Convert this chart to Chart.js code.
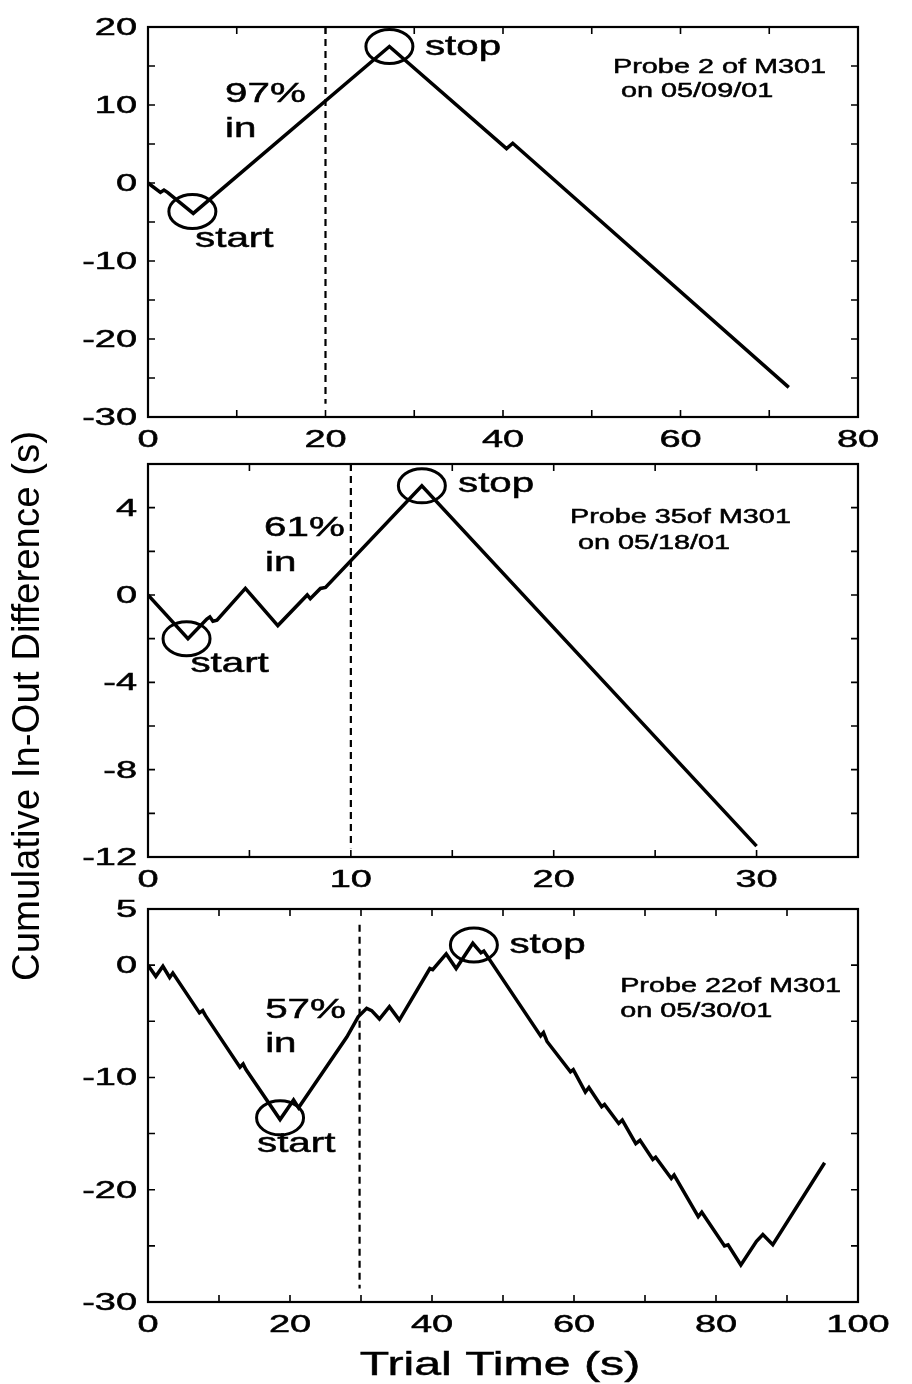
<!DOCTYPE html>
<html>
<head>
<meta charset="utf-8">
<script src="https://cdn.jsdelivr.net/npm/chart.js@4.4.1/dist/chart.umd.min.js"></script>
<style>
  html, body { margin: 0; padding: 0; background: #fff; }
  #wrap { position: relative; width: 912px; height: 1384px; overflow: hidden; }
  #wrap canvas { position: absolute; left: 0; top: 0; }
</style>
</head>
<body>
<div id="wrap">
  <canvas id="probe2" width="912" height="1384"></canvas>
  <canvas id="probe35" width="912" height="1384"></canvas>
  <canvas id="probe22" width="912" height="1384"></canvas>
</div>
<script>
// trial time (s) / cumulative in-out difference (s)
const probe2Time = [0, 1.4, 1.8, 2.2, 5.1, 27.2, 40.4, 41.1, 72.2];
const probe2Diff = [0, -1.2, -0.9, -1.2, -3.9, 17.5, 4.4, 5.1, -26.2];

const probe35Time = [0, 1.97, 2.9, 3.05, 3.2, 3.4, 4.8, 6.4, 7.85, 8.0, 8.5, 8.75, 13.5, 30];
const probe35Diff = [0, -2.0, -1.1, -1.0, -1.2, -1.15, 0.3, -1.4, 0.0, -0.17, 0.3, 0.35, 5.0, -11.5];

const probe22Time = [0, 1.1, 2.1, 3.05, 3.5, 7.25, 7.7, 8.1, 12.95, 13.4, 13.8, 18.6, 20.5, 21.2,
  28.0, 29.6, 30.8, 31.5, 32.6, 34.0, 35.4, 39.7, 40.1, 42.0, 43.4, 45.75, 46.9, 47.3,
  55.3, 55.7, 56.2, 59.5, 59.9, 61.6, 62.1, 63.9, 64.3, 66.3, 66.8, 68.7, 69.3, 71.1, 71.5,
  73.7, 74.1, 77.5, 78.0, 81.2, 81.7, 83.5, 85.7, 86.6, 88.0, 95.3];
const probe22Diff = [0, -1.0, -0.1, -1.1, -0.7, -4.25, -4.05, -4.5, -9.1, -8.8, -9.3, -13.75, -12.0, -12.7,
  -6.4, -4.6, -3.85, -4.05, -4.8, -3.7, -4.9, -0.3, -0.4, 1.0, -0.3, 1.95, 1.1, 1.25,
  -6.3, -6.0, -6.8, -9.5, -9.3, -11.3, -10.9, -12.6, -12.4, -14.1, -13.8, -15.9, -15.6, -17.3, -17.1,
  -19.0, -18.7, -22.4, -22.0, -25.0, -24.9, -26.7, -24.6, -24.0, -24.9, -17.6];

// start / stop points that get circled, and the dashed marker time
const probe2Marks = [[5.0, -3.65], [27.2, 17.5]];
const probe35Marks = [[1.9, -2.0], [13.5, 5.0]];
const probe22Marks = [[18.6, -13.6], [45.9, 1.8]];
const probe2Cue = 20;
const probe35Cue = 10;
const probe22Cue = 29.8;

// tick labels
const probe2XLabels = [0, 20, 40, 60, 80];
const probe2YLabels = [20, 10, 0, -10, -20, -30];
const probe35XLabels = [0, 10, 20, 30];
const probe35YLabels = [4, 0, -4, -8, -12];
const probe22XLabels = [0, 20, 40, 60, 80, 100];
const probe22YLabels = [5, 0, -10, -20, -30];

const FONT = 'Arial, "Liberation Sans", Helvetica, sans-serif';
const SQUASH = 1.44;      // the original figure is stretched sideways
const TICK_SQUASH = 1.65;

// text is a bit heavy in the scan, so give it a hairline outline too
function wideText(ctx, text, x, y, size, align, sx) {
  ctx.save();
  ctx.translate(x, y);
  ctx.scale(sx, 1);
  ctx.font = size + 'px ' + FONT;
  ctx.textAlign = align;
  ctx.textBaseline = 'alphabetic';
  ctx.fillStyle = '#000';
  ctx.strokeStyle = '#000';
  ctx.lineWidth = 0.5;
  ctx.fillText(text, 0, 0);
  ctx.strokeText(text, 0, 0);
  ctx.restore();
}

function framePlugin(panel) {
  return {
    id: 'frame',
    afterDatasetsDraw(chart) {
      const ctx = chart.ctx;
      const xs = chart.scales.x, ys = chart.scales.y;
      const a = chart.chartArea;
      ctx.save();
      ctx.strokeStyle = '#000';

      ctx.lineWidth = 3;
      panel.marks.forEach(m => {
        ctx.beginPath();
        ctx.ellipse(xs.getPixelForValue(m[0]), ys.getPixelForValue(m[1]), 23.5, 17, 0, 0, Math.PI * 2);
        ctx.stroke();
      });

      ctx.lineWidth = 2.2;
      ctx.strokeRect(a.left, a.top, a.right - a.left, a.bottom - a.top);

      // matlab style ticks, pointing in, on all four sides
      ctx.lineWidth = 1.6;
      ctx.beginPath();
      xs.ticks.forEach(t => {
        const px = xs.getPixelForValue(t.value);
        ctx.moveTo(px, a.bottom); ctx.lineTo(px, a.bottom - 7);
        ctx.moveTo(px, a.top); ctx.lineTo(px, a.top + 7);
      });
      ys.ticks.forEach(t => {
        const py = ys.getPixelForValue(t.value);
        ctx.moveTo(a.left, py); ctx.lineTo(a.left + 7, py);
        ctx.moveTo(a.right, py); ctx.lineTo(a.right - 7, py);
      });
      ctx.stroke();

      panel.xLabels.forEach(v => wideText(ctx, String(v), xs.getPixelForValue(v), a.bottom + 30, 23, 'center', TICK_SQUASH));
      panel.yLabels.forEach(v => wideText(ctx, String(v), 137, ys.getPixelForValue(v) + 8, 23, 'right', TICK_SQUASH));

      panel.notes.forEach(n => wideText(ctx, n[0], xs.getPixelForValue(n[1]), ys.getPixelForValue(n[2]), n[3], 'left', SQUASH));

      if (panel.extra) panel.extra(ctx, a);
      ctx.restore();
    }
  };
}

function makePanel(id, panel) {
  return new Chart(document.getElementById(id), {
    type: 'line',
    data: {
      datasets: [
        {
          data: panel.time.map((t, i) => ({ x: t, y: panel.diff[i] })),
          borderColor: '#000',
          borderWidth: 3.5,
          pointRadius: 0,
          tension: 0,
          fill: false
        },
        {
          data: [{ x: panel.cue, y: panel.cueSpan[0] }, { x: panel.cue, y: panel.cueSpan[1] }],
          borderColor: '#000',
          borderWidth: 2.2,
          borderDash: [7, 5],
          pointRadius: 0,
          fill: false
        }
      ]
    },
    options: {
      responsive: false,
      animation: false,
      events: [],
      layout: {
        padding: { left: panel.box[0], top: panel.box[1], right: 912 - panel.box[2], bottom: 1384 - panel.box[3] }
      },
      plugins: { legend: { display: false }, tooltip: { enabled: false } },
      scales: {
        x: {
          type: 'linear', min: panel.xRange[0], max: panel.xRange[1],
          ticks: { display: false, stepSize: panel.xStep },
          grid: { display: false }, border: { display: false },
          afterFit: s => { s.height = 0; }
        },
        y: {
          type: 'linear', min: panel.yRange[0], max: panel.yRange[1],
          ticks: { display: false, stepSize: panel.yStep },
          grid: { display: false }, border: { display: false },
          afterFit: s => { s.width = 0; }
        }
      }
    },
    plugins: [framePlugin(panel)]
  });
}

makePanel('probe2', {
  time: probe2Time, diff: probe2Diff, marks: probe2Marks,
  cue: probe2Cue, cueSpan: [20, -28.3],
  box: [148, 27, 858, 417],
  xRange: [0, 80], xStep: 10, yRange: [-30, 20], yStep: 5,
  xLabels: probe2XLabels, yLabels: probe2YLabels,
  notes: [
    ['97%', 8.68, 10.38, 28], ['in', 8.68, 5.9, 28],
    ['start', 5.3, -8.2, 28], ['stop', 31.2, 16.4, 28],
    ['Probe 2 of M301', 52.4, 14.1, 20], [' on 05/09/01', 52.4, 11.0, 20]
  ]
});

makePanel('probe35', {
  time: probe35Time, diff: probe35Diff, marks: probe35Marks,
  cue: probe35Cue, cueSpan: [6, -11.6],
  box: [148, 464, 858, 857],
  xRange: [0, 35], xStep: 5, yRange: [-12, 6], yStep: 2,
  xLabels: probe35XLabels, yLabels: probe35YLabels,
  notes: [
    ['61%', 5.72, 2.69, 28], ['in', 5.77, 1.09, 28],
    ['start', 2.09, -3.54, 28], ['stop', 15.28, 4.7, 28],
    ['Probe 35of M301', 20.8, 3.28, 20], [' on 05/18/01', 20.8, 2.09, 20]
  ],
  extra(ctx) {
    const label = 'Cumulative In-Out Difference (s)';
    ctx.save();
    ctx.translate(39, 706);
    ctx.rotate(-Math.PI / 2);
    ctx.font = '38px ' + FONT;
    const w = ctx.measureText(label).width;
    ctx.scale(550 / w, 1);
    ctx.textAlign = 'center';
    ctx.fillStyle = '#000';
    ctx.fillText(label, 0, 0);
    ctx.restore();
  }
});

makePanel('probe22', {
  time: probe22Time, diff: probe22Diff, marks: probe22Marks,
  cue: probe22Cue, cueSpan: [3.6, -28.8],
  box: [148, 909, 858, 1302],
  xRange: [0, 100], xStep: 10, yRange: [-30, 5], yStep: 5,
  xLabels: probe22XLabels, yLabels: probe22YLabels,
  notes: [
    ['57%', 16.5, -4.69, 28], ['in', 16.5, -7.75, 28],
    ['start', 15.35, -16.6, 28], ['stop', 50.9, 1.07, 28],
    ['Probe 22of M301', 66.5, -2.38, 20], ['on 05/30/01', 66.5, -4.6, 20]
  ],
  extra(ctx) {
    wideText(ctx, 'Trial Time (s)', 500, 1375, 33.5, 'center', SQUASH);
  }
});
</script>
</body>
</html>
